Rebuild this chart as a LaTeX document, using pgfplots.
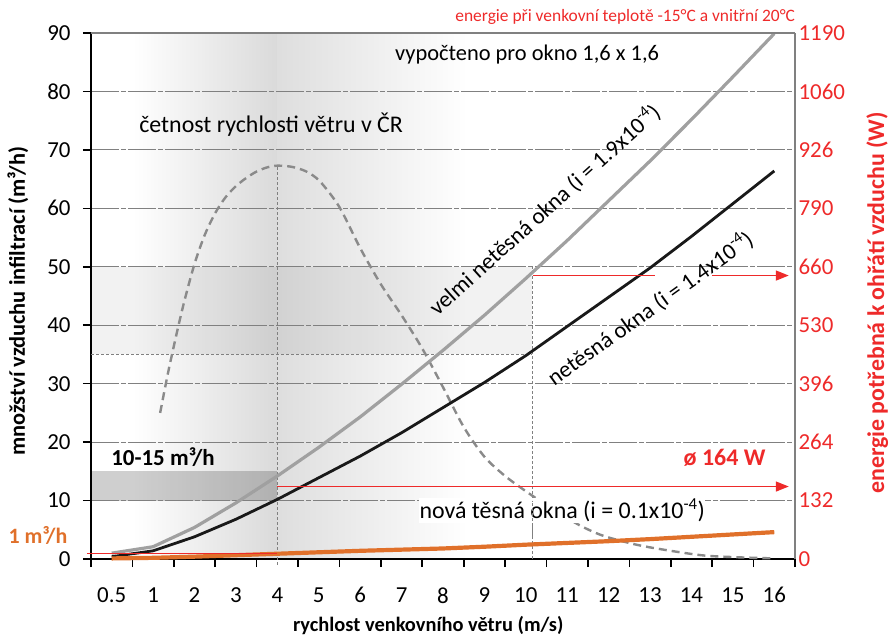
\documentclass[border=0pt]{standalone}
\usepackage{pgfplots}
\pgfplotsset{compat=1.18}
\usepackage{fontspec}
\setmainfont{Carlito}
\usetikzlibrary{arrows.meta}
\definecolor{myred}{HTML}{EE2A2A}
\definecolor{myorange}{HTML}{E0702A}
\definecolor{lgray}{HTML}{A0A0A0}
\definecolor{gridgray}{HTML}{808080}
\definecolor{dashgray}{HTML}{8A8A8A}
\newcommand\ticks{\fontsize{23}{27}\selectfont}
\newcommand\lab{\fontsize{22}{26}\selectfont\bfseries}
\newcommand\ann{\fontsize{23}{27}\selectfont}
\pgfplotsset{base/.style={width=704bp, height=526bp, scale only axis,
  xmin=-0.5, xmax=16.5, ymin=0, ymax=90, clip=false,
  /pgf/number format/assume math mode=true}}
\begin{document}
\begin{tikzpicture}
\useasboundingbox (-91bp,-80bp) rectangle (800bp,559bp);
% background
\begin{axis}[base, hide axis]
\fill[left color=white, right color=gray!29] (axis cs:0.5,0) rectangle (axis cs:4,90);
\fill[left color=gray!26, right color=white] (axis cs:4,0) rectangle (axis cs:8.6,90);
\fill[black, fill opacity=0.05] (axis cs:-0.5,35) rectangle (axis cs:10.15,50);
\fill[black, fill opacity=0.19] (axis cs:-0.5,10) rectangle (axis cs:4,15);
\end{axis}
% main
\begin{axis}[base,
  axis x line*=bottom, axis y line*=left,
  axis line style={black, line width=1.6bp},
  every tick/.style={black, line width=1.6bp},
  tick align=outside, major tick length=8bp,
  tick label style={font=\ticks},
  ytick={0,10,...,90},
  yticklabel style={xshift=-9bp},
  xtick={-0.5,0.5,...,16.5}, xticklabels={},
  extra x ticks={0,1,...,16},
  extra x tick labels={0.5,1,2,3,4,5,6,7,8,9,10,11,12,13,14,15,16},
  extra x tick style={major tick length=0pt, tick label style={yshift=-25bp}},
  ymajorgrids,
  major grid style={gridgray, line width=0.9bp, dash pattern=on 28bp off 2bp on 5bp off 2bp},
  xlabel={rychlost venkovního větru (m/s)},
  xlabel style={font=\fontsize{20.5}{24}\selectfont\bfseries, at={(axis description cs:0.479,-0.127)}, anchor=center},
  ylabel={množství vzduchu infiltrací (m³/h)},
  ylabel style={font=\fontsize{22.5}{26}\selectfont\bfseries, at={(axis description cs:-0.104,0.49)}, anchor=center, rotate=0},
]
% guide lines
\draw[gridgray, line width=0.8bp, dash pattern=on 3bp off 2bp] (axis cs:4,-1) -- (axis cs:4,67.3);
\draw[gridgray, line width=0.8bp, dash pattern=on 3bp off 2bp] (axis cs:10.15,0) -- (axis cs:10.15,50);
\draw[gridgray, line width=0.8bp, dash pattern=on 3bp off 2bp] (axis cs:-0.5,35) -- (axis cs:10.15,35);
% data
\addplot[dashgray, line width=2.4bp, dash pattern=on 8bp off 5bp, smooth] coordinates {
(1.17,25.0) (1.35,31.5) (1.55,38.0) (1.75,44.0) (2.0,50.5) (2.25,55.5) (2.5,59.2)
(2.75,61.9) (3.0,63.8) (3.25,65.2) (3.5,66.3) (3.75,67.0) (4.0,67.3) (4.35,67.1)
(4.7,66.3) (5.03,64.6) (5.5,60.2) (6.0,53.2) (6.5,47.0) (7.0,41.7) (7.5,36.0)
(8.0,29.4) (8.5,22.6) (9.0,17.5) (9.5,14.2) (10.0,11.6) (10.5,9.2) (11.0,7.0)
(11.4,5.4) (11.9,3.9) (12.7,2.4) (13.5,1.4) (14.3,0.6) (15.1,0.3) (16.0,0.1)};
\addplot[lgray, line width=3.2bp] coordinates {
(0,1.0) (1,2.1) (2,5.4) (3,9.6) (4,14.2) (5,19.1) (6,24.3) (7,29.9) (8,35.7)
(9,41.7) (10,48.0) (11,54.5) (12,61.3) (13,68.1) (14,75.2) (15,82.5) (16,89.9)};
\addplot[black!90, line width=2.8bp] coordinates {
(0,0.4) (1,1.4) (2,3.8) (3,6.8) (4,10.2) (5,13.9) (6,17.6) (7,21.6) (8,25.9)
(9,30.2) (10,34.8) (11,39.8) (12,44.8) (13,49.8) (14,55.2) (15,60.8) (16,66.4)};
\addplot[myorange, line width=4.2bp] coordinates {
(0,0.1) (1,0.2) (2,0.4) (3,0.65) (4,0.9) (5,1.15) (6,1.4) (7,1.6) (8,1.8)
(9,2.1) (10,2.45) (11,2.75) (12,3.05) (13,3.4) (14,3.8) (15,4.2) (16,4.6)};
% red lines
\draw[myred, line width=1.2bp] (axis cs:-0.6,0.9) -- (axis cs:4,0.9);
\draw[myred, line width=1.5bp, -{Triangle[length=13bp,width=10bp]}] (axis cs:4,12.4) -- (axis cs:16.35,12.4);
\draw[myred, line width=1.5bp] (axis cs:10.18,48.5) -- (axis cs:13.12,48.5);
\draw[myred, line width=1.5bp, -{Triangle[length=13bp,width=10bp]}] (axis cs:14.5,48.5) -- (axis cs:16.35,48.5);
% annotations
\node[font=\fontsize{22.5}{27}\selectfont] at (axis cs:10.03,86.3) {vypočteno pro okno 1,6 x 1,6};
\node[font=\fontsize{24}{28}\selectfont] at (axis cs:3.85,74.3) {četnost rychlosti větru v ČR};
\node[font=\ann, rotate=42] at (axis cs:10.45,59.8) {velmi netěsná okna (i = 1.9x10\textsuperscript{-4})};
\node[font=\ann, rotate=35.5] at (axis cs:13.0,42.9) {netěsná okna (i = 1.4x10\textsuperscript{-4})};
\node[font=\fontsize{24}{28}\selectfont, fill=white, inner sep=0.5bp] at (axis cs:10.88,8.3) {nová těsná okna (i = 0.1x10\textsuperscript{-4})};
\draw[gridgray, line width=0.8bp, dash pattern=on 3bp off 2bp] (axis cs:10.15,4) -- (axis cs:10.15,10);
\node[font=\fontsize{24}{28}\selectfont\bfseries, text=myred] at (axis cs:14.8,17.3) {ø 164 W};
\node[font=\fontsize{23}{27}\selectfont\bfseries] at (axis cs:1.24,17.5) {10-15 m³/h};
\node[font=\lab, text=myorange] at (axis cs:-1.78,4.1) {1 m³/h};
\node[font=\fontsize{17.5}{21}\selectfont, text=myred] at (axis cs:12.4,92.7) {energie při venkovní teplotě -15°C a vnitřní 20°C};
\end{axis}
% right axis
\begin{axis}[base,
  axis x line*=top, axis y line*=right,
  axis line style={gridgray, line width=1.3bp},
  xtick=\empty,
  ytick={0,10,...,90},
  yticklabels={0,132,264,396,530,660,790,926,1060,1190},
  major tick length=0pt,
  tick label style={font=\ticks, text=myred},
  ylabel={energie potřebná k ohřátí vzduchu (W)},
  ylabel style={font=\fontsize{24}{28}\selectfont\bfseries, text=myred, at={(axis description cs:1.117,0.487)}, anchor=center, rotate=0},
]
\end{axis}
\end{tikzpicture}
\end{document}
